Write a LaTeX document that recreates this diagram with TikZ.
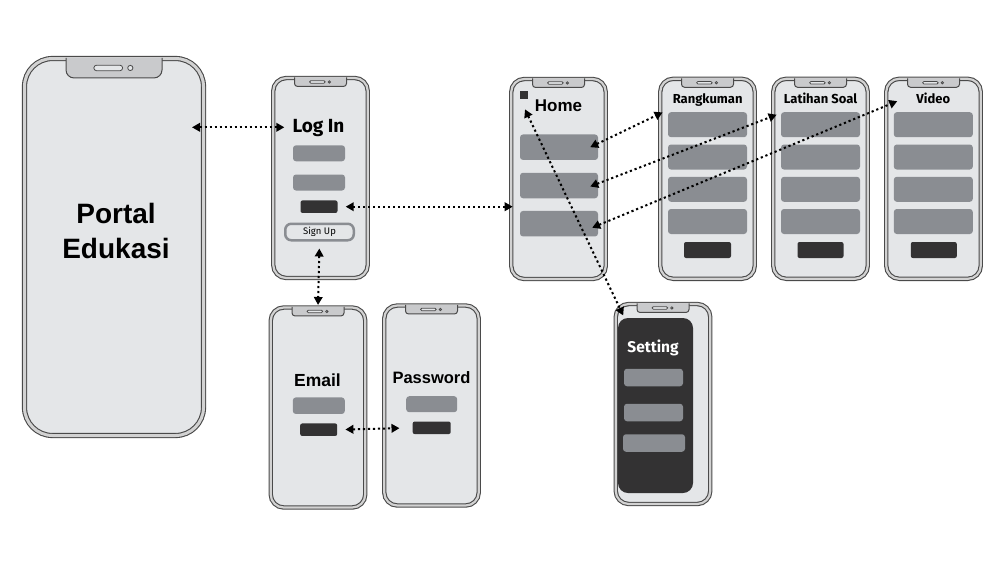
\documentclass[tikz,border=0pt]{standalone}
\usepackage{fontspec}
\setmainfont{Fira Sans}
\newfontfamily\arialfont{Liberation Sans}
\usetikzlibrary{arrows.meta,calc}

\definecolor{screen}{HTML}{E4E6E8}
\definecolor{band}{HTML}{D2D2D2}
\definecolor{frame}{HTML}{4A4A4A}
\definecolor{notchfill}{HTML}{C9CACC}
\definecolor{bargray}{HTML}{8A8D92}
\definecolor{darkbtn}{HTML}{333233}

% notch on top of a phone: node, width, depth, corner
\newcommand{\phonenotch}[4]{%
  \draw[frame, fill=notchfill, line width=1pt, rounded corners=#4]
    ($(#1.north)+(-#2/2,0)$) -- ++(0,#3) -- ++(#2,0) -- ++(0,-#3);
  \draw[frame, fill=screen, line width=0.8pt, rounded corners=0.14*#3]
    ($(#1.north)+(-0.21*#2,0.36*#3)$) rectangle ++(0.3*#2,0.28*#3);
  \draw[frame, fill=screen, line width=0.8pt]
    ($(#1.north)+(0.17*#2,0.5*#3)$) circle[radius=0.13*#3];
}

\begin{document}
\begin{tikzpicture}[x=1pt, y=-1pt,
  phone/.style={draw=frame, line width=1.1pt, double=band, double distance=2.2pt, fill=screen, rounded corners=13pt, inner sep=0pt, minimum width=94.5, minimum height=200},
  bigphone/.style={phone, double distance=3pt, rounded corners=28pt, minimum width=179, minimum height=377},
  title/.style={anchor=base, inner sep=2pt, font=\bfseries\fontsize{13}{13}\selectfont},
  bar/.style={fill=bargray, rounded corners=3pt, inner sep=0pt, minimum width=79, minimum height=25},
  btn/.style={fill=darkbtn, rounded corners=2pt, inner sep=0pt, minimum width=37, minimum height=12.5},
  link/.style={<->, >={Triangle[length=8pt, width=8.5pt]}, line width=2pt, dash pattern=on 2.2pt off 2.8pt}]

\useasboundingbox (0,0) rectangle (1007,566);

% start screen
\node[bigphone] (portal) at (114,247) {};
\phonenotch{portal}{96}{20}{8}
\node[align=center, font=\arialfont\bfseries\fontsize{28}{35}\selectfont] (portaltext) at (116,231) {Portal\\Edukasi};
\coordinate (portalport) at (192,127.3);

% log in
\node[phone] (login) at (320.5,178) {};
\phonenotch{login}{52}{9}{3}
\node[title, font=\bfseries\fontsize{19}{19}\selectfont] (logtitle) at (318.5,132.7) {Log In};
\node[bar, minimum width=52, minimum height=16] (lbar1) at (319,153.3) {};
\node[bar, minimum width=52, minimum height=16] (lbar2) at (319,182.5) {};
\node[btn] (loginbtn) at (319,206.7) {};
\node[draw=bargray, line width=2.5pt, fill=screen, rounded corners=6pt, inner sep=0pt, minimum width=68.5, minimum height=16.5, font=\fontsize{9.5}{9.5}\selectfont] (signup) at (319.5,232) {Sign Up};

% sign up
\node[phone] (email) at (318,407.5) {};
\phonenotch{email}{52}{9}{3}
\node[title, font=\arialfont\bfseries\fontsize{17.5}{17.5}\selectfont] (etitle) at (317.5,386.7) {Email};
\node[bar, minimum width=52, minimum height=16.5] (ebar) at (318.8,405.7) {};
\node[btn] (emailbtn) at (318.7,429.7) {};

\node[phone] (password) at (431.5,405.5) {};
\phonenotch{password}{52}{9}{3}
\node[title, font=\arialfont\bfseries\fontsize{16.5}{16.5}\selectfont] (ptitle) at (431.5,383.3) {Password};
\node[bar, minimum width=51, minimum height=16] (pbar) at (431.7,404.2) {};
\node[btn, minimum width=38] (passbtn) at (431.7,427.8) {};

% home
\node[phone] (home) at (558.5,179) {};
\phonenotch{home}{52}{9}{3}
\node[fill=darkbtn, inner sep=0pt, minimum size=8.3] (hsquare) at (524,95) {};
\node[title, font=\arialfont\bfseries\fontsize{17}{17}\selectfont] (htitle) at (558.5,111) {Home};
\node[bar, minimum width=78, minimum height=25.5] (hbar1) at (559,147.2) {};
\node[bar, minimum width=78, minimum height=25.5] (hbar2) at (559,185.5) {};
\node[bar, minimum width=78, minimum height=25.5] (hbar3) at (559,223.7) {};

% menu pages
\node[phone] (rangkuman) at (707.5,178.8) {};
\phonenotch{rangkuman}{52}{9}{3}
\node[title] (rtitle) at (707.7,103.3) {Rangkuman};
\node[bar] (rbar1) at (707.5,124.7) {};
\node[bar] (rbar2) at (707.5,157) {};
\node[bar] (rbar3) at (707.5,189.3) {};
\node[bar] (rbar4) at (707.5,221.5) {};
\node[btn, minimum width=47, minimum height=16] (rbtn) at (707.5,250) {};

\node[phone] (latihan) at (820.5,178.8) {};
\phonenotch{latihan}{52}{9}{3}
\node[title] (ltitle) at (820.5,103.3) {Latihan Soal};
\node[bar] (lsbar1) at (820.5,124.7) {};
\node[bar] (lsbar2) at (820.5,157) {};
\node[bar] (lsbar3) at (820.5,189.3) {};
\node[bar] (lsbar4) at (820.5,221.5) {};
\node[btn, minimum width=46, minimum height=16] (lbtn) at (820.5,250) {};

\node[phone] (video) at (933.5,178.8) {};
\phonenotch{video}{52}{9}{3}
\node[title] (vtitle) at (933.3,103.3) {Video};
\node[bar] (vbar1) at (933.3,124.7) {};
\node[bar] (vbar2) at (933.3,157) {};
\node[bar] (vbar3) at (933.3,189.3) {};
\node[bar] (vbar4) at (933.3,221.5) {};
\node[btn, minimum width=46, minimum height=16] (vbtn) at (933.8,250) {};

% setting
\node[phone] (setting) at (663,404) {};
\node[fill=darkbtn, rounded corners=10pt, inner sep=0pt, minimum width=75, minimum height=175] (setpanel) at (655.5,405.5) {};
\phonenotch{setting}{52}{9}{3}
\node[title, text=white, font=\bfseries\fontsize{15.5}{15.5}\selectfont] (stitle) at (653,352) {Setting};
\node[bar, minimum width=59, minimum height=17.5] (sbar1) at (653.5,377.5) {};
\node[bar, minimum width=59, minimum height=17.5] (sbar2) at (653.5,412.5) {};
\node[bar, minimum width=62, minimum height=17.5] (sbar3) at (654,443) {};

% links
\draw[link] (portalport) -- ([xshift=-6pt]logtitle.west |- portalport);
\draw[link, shorten <=8pt, shorten >=-2pt] (loginbtn.east) -- (loginbtn.east -| home.west);
\draw[link, shorten <=7pt, shorten >=2pt] (signup.south) -- (email.north);
\draw[link, shorten <=8pt, shorten >=13pt] (emailbtn.east) -- (passbtn.west);
\draw[link] ([xshift=-8pt]hbar1.east) -- ([shift={(-8,4)}]rtitle.south west);
\draw[link] ([shift={(-8,1)}]hbar2.east) -- ([shift={(-5,9)}]ltitle.south west);
\draw[link] ([shift={(-6,4)}]hbar3.east) -- ([shift={(-17,3)}]vtitle.west);
\draw[link] ([shift={(1,10)}]hsquare.south) -- ([shift={(8,12)}]setting.north west);
\end{tikzpicture}
\end{document}
